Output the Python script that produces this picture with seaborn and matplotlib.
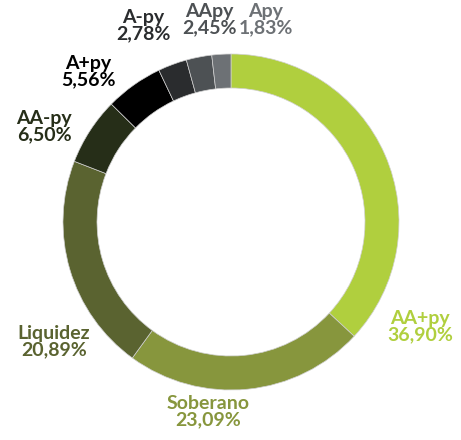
"""Donut chart of portfolio composition by rating bucket."""

import matplotlib.pyplot as plt
import seaborn as sns

categories = ["AA+py", "Soberano", "Liquidez", "AA-py", "A+py", "A-py", "AApy", "Apy"]
shares = [36.90, 23.09, 20.89, 6.50, 5.56, 2.78, 2.45, 1.83]
colors = ["#b0cf3e", "#87963d", "#5a6330", "#262e18", "#000000", "#2a2c2e", "#4d5154", "#6d7175"]

# label anchor positions in pixel coords (x, y from top)
label_pos = [(420, 327), (208, 412), (54, 342), (44, 127), (88, 72), (143, 26), (209, 20), (266, 20)]

sns.set_theme(style="white")
plt.rcParams["font.family"] = ["Lato", "DejaVu Sans"]

W, H = 461, 440
fig = plt.figure(figsize=(W / 100, H / 100), dpi=100)
ax = fig.add_axes([0, 0, 1, 1])

cx, cy, r = 231, H - 222, 168
ax.pie(
    shares,
    colors=colors,
    startangle=90,
    counterclock=False,
    center=(cx, cy),
    radius=r,
    wedgeprops=dict(width=34, linewidth=0.5, edgecolor="#d0d0d0"),
    frame=True,
)
ax.set_xlim(0, W)
ax.set_ylim(0, H)
ax.set_aspect("equal")
ax.axis("off")

for name, val, col, (x, y) in zip(categories, shares, colors, label_pos):
    txt = f"{name}\n{val:.2f}%".replace(".", ",")
    ax.text(x, H - y, txt, color=col, ha="center", va="center",
            fontsize=14, fontweight="bold", linespacing=0.95)

fig.savefig("out.png", dpi=100)
